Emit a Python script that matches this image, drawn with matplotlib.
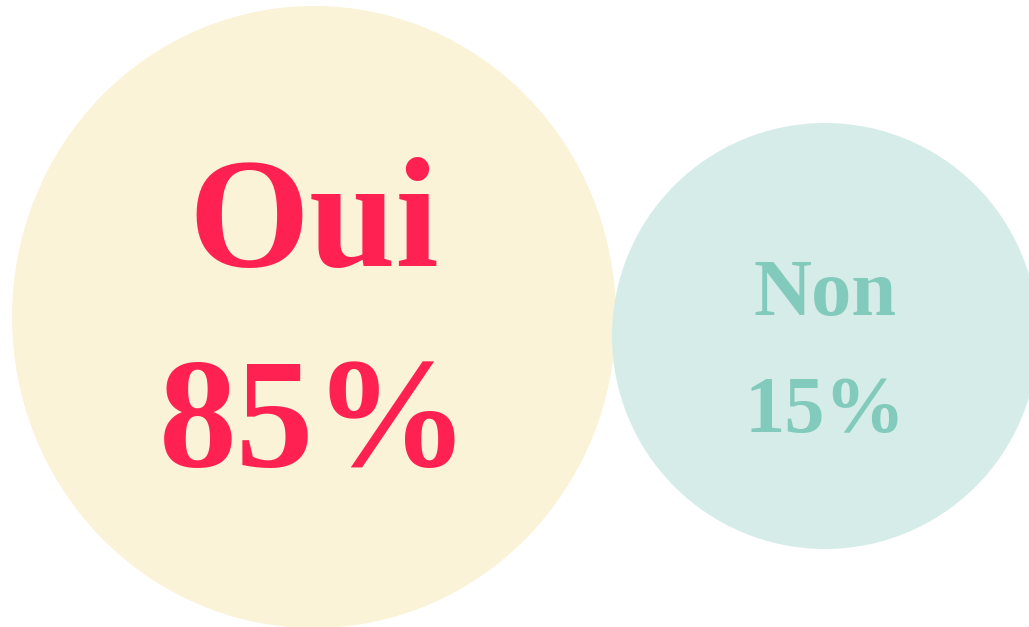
import matplotlib
matplotlib.use("Agg")
import matplotlib.pyplot as plt
from matplotlib.patches import Ellipse

labels = ["Oui", "Non"]
values = [85, 15]
fill_colors = ["#FAF3D7", "#D6ECE8"]
text_colors = ["#FF2152", "#82CABC"]

# layout in pixel units (figure is 1029 x 627)
centers = [(314, 317), (825, 336)]
widths = [604, 426]
heights = [622, 426]
font_sizes = [112, 58]
label_y = [(211, 412), (287, 404)]

fig = plt.figure(figsize=(10.29, 6.27), dpi=100)
ax = fig.add_axes([0, 0, 1, 1])
ax.set_xlim(0, 1029)
ax.set_ylim(627, 0)
ax.axis("off")

for lab, val, fc, tc, c, w, h, fs, (y1, y2) in zip(
        labels, values, fill_colors, text_colors, centers, widths, heights,
        font_sizes, label_y):
    ax.add_patch(Ellipse(c, w, h, facecolor=fc, edgecolor="none"))
    ax.text(c[0], y1, lab, ha="center", va="center_baseline", fontsize=fs,
            family="Liberation Serif", weight="bold", color=tc)
    ax.text(c[0], y2, f"{val}%", ha="center", va="center_baseline", fontsize=fs,
            family="Liberation Serif", weight="bold", color=tc)

fig.savefig("out.png", dpi=100)
